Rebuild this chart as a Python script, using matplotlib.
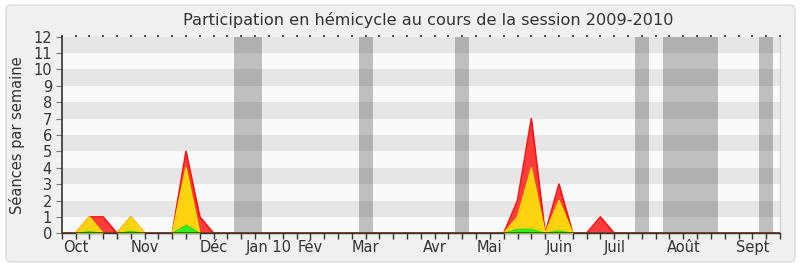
import numpy as np
import matplotlib
matplotlib.use("Agg")
import matplotlib.pyplot as plt
from matplotlib.patches import FancyBboxPatch

# Weekly attendance in the chamber, session 2009-2010 (week 0 = end of September)
weeks = list(range(53))
presences = [0, 0, 1, 1, 0, 1, 0, 0, 0, 5, 1, 0, 0, 0, 0, 0, 0, 0, 0, 0,
             0, 0, 0, 0, 0, 0, 0, 0, 0, 0, 0, 0, 0, 2, 7, 0, 3, 0, 0, 1,
             0, 0, 0, 0, 0, 0, 0, 0, 0, 0, 0, 0, 0]
interventions = [0, 0, 1, 0, 0, 1, 0, 0, 0, 4, 0, 0, 0, 0, 0, 0, 0, 0, 0, 0,
                 0, 0, 0, 0, 0, 0, 0, 0, 0, 0, 0, 0, 0, 1, 4, 0, 2, 0, 0, 0,
                 0, 0, 0, 0, 0, 0, 0, 0, 0, 0, 0, 0, 0]
questions = [0, 0, 0.1, 0, 0, 0.12, 0, 0, 0, 0.5, 0, 0, 0, 0, 0, 0, 0, 0, 0, 0,
             0, 0, 0, 0, 0, 0, 0, 0, 0, 0, 0, 0, 0, 0.25, 0.25, 0, 0.15, 0, 0, 0,
             0, 0, 0, 0, 0, 0, 0, 0, 0, 0, 0, 0, 0]
median = [0] * 53

# Weeks without sittings (holidays)
vacances = [13, 14, 22, 29, 42, 44, 45, 46, 47, 51]

month_weeks = [1, 6, 11, 15, 18, 22, 27, 31, 36, 40, 45, 50]
month_labels = ["Oct", "Nov", "Déc", "Jan 10", "Fév", "Mar", "Avr", "Mai",
                "Juin", "Juil", "Août", "Sept"]

plt.rcParams['font.family'] = ['DejaVu Sans']
W, H = 800, 267
fig = plt.figure(figsize=(W / 100, H / 100), dpi=100)
fig.patch.set_facecolor("white")

frame = FancyBboxPatch((0.06, 0.05), 7.89, 2.57,
                       boxstyle="round,pad=0,rounding_size=0.05",
                       transform=fig.dpi_scale_trans,
                       facecolor="#f0f0f0", edgecolor="#dcdcdc", linewidth=1.0,
                       zorder=-10)
fig.patches.append(frame)

left, right = 61.7 / W, 780 / W
bottom, top = 1 - 233.3 / H, 1 - 36.7 / H
ax = fig.add_axes([left, bottom, right - left, top - bottom])
ax.set_xlim(0, 52)
ax.set_ylim(0, 12)
ax.set_facecolor("#fafafa")

# Alternating horizontal stripes
for k in range(1, 12, 2):
    ax.axhspan(k, k + 1, color="#e6e6e6", lw=0, zorder=0)

for w in vacances:
    ax.axvspan(w - 0.5, w + 0.5, color="#161616", alpha=0.26, lw=0, zorder=1)

x = np.array(weeks)
ax.fill_between(x, presences, color="#ff3c3c", lw=0, zorder=2)
ax.plot(x, presences, color="#ff1010", lw=1.2, zorder=2.1)
ax.fill_between(x, interventions, color="#ffd30f", lw=0, zorder=3)
ax.plot(x, interventions, color="#ffe600", lw=1.0, zorder=3.1)
ax.fill_between(x, questions, color="#33ee22", lw=0, zorder=4)
ax.plot(x, questions, color="#22dd11", lw=0.8, zorder=4.1)
ax.plot(x, median, color="#7a2a1a", lw=1.2, zorder=5)

ax.spines["top"].set_visible(False)
ax.spines["right"].set_color("#cccccc")
ax.spines["left"].set_color("#333333")
ax.spines["bottom"].set_color("#333333")
ax.spines["left"].set_linewidth(1.2)
ax.spines["bottom"].set_linewidth(1.0)

ax.set_yticks(range(0, 13))
ax.tick_params(axis="y", length=4, color="#777777", pad=3, labelsize=10.5,
               labelcolor="#333333")

ax.xaxis.remove_overlapping_locs = False
ax.set_xticks(weeks)
ax.set_xticklabels([""] * len(weeks))
ax.set_xticks(month_weeks, minor=True)
ax.set_xticklabels(month_labels, minor=True)
ax.tick_params(axis="x", which="major", length=4, width=1, color="#333333",
               direction="out", bottom=True, top=True)
ax.tick_params(axis="x", which="minor", length=0, pad=5, labelsize=10.5,
               labelcolor="#333333", top=False)

# Top ticks are only small dots
for t in ax.xaxis.get_major_ticks():
    t.tick2line.set_markersize(1.5)
    t.tick2line.set_markeredgewidth(1.2)
    t.tick2line.set_color("#111111")

ax.set_ylabel("Séances par semaine", fontsize=10.5, color="#333333", labelpad=6)
fig.text(428 / W, 1 - 20 / H, "Participation en hémicycle au cours de la session 2009-2010",
         ha="center", va="center", fontsize=11.6, color="#333333")

fig.savefig("out.png", dpi=100, facecolor=fig.get_facecolor())
